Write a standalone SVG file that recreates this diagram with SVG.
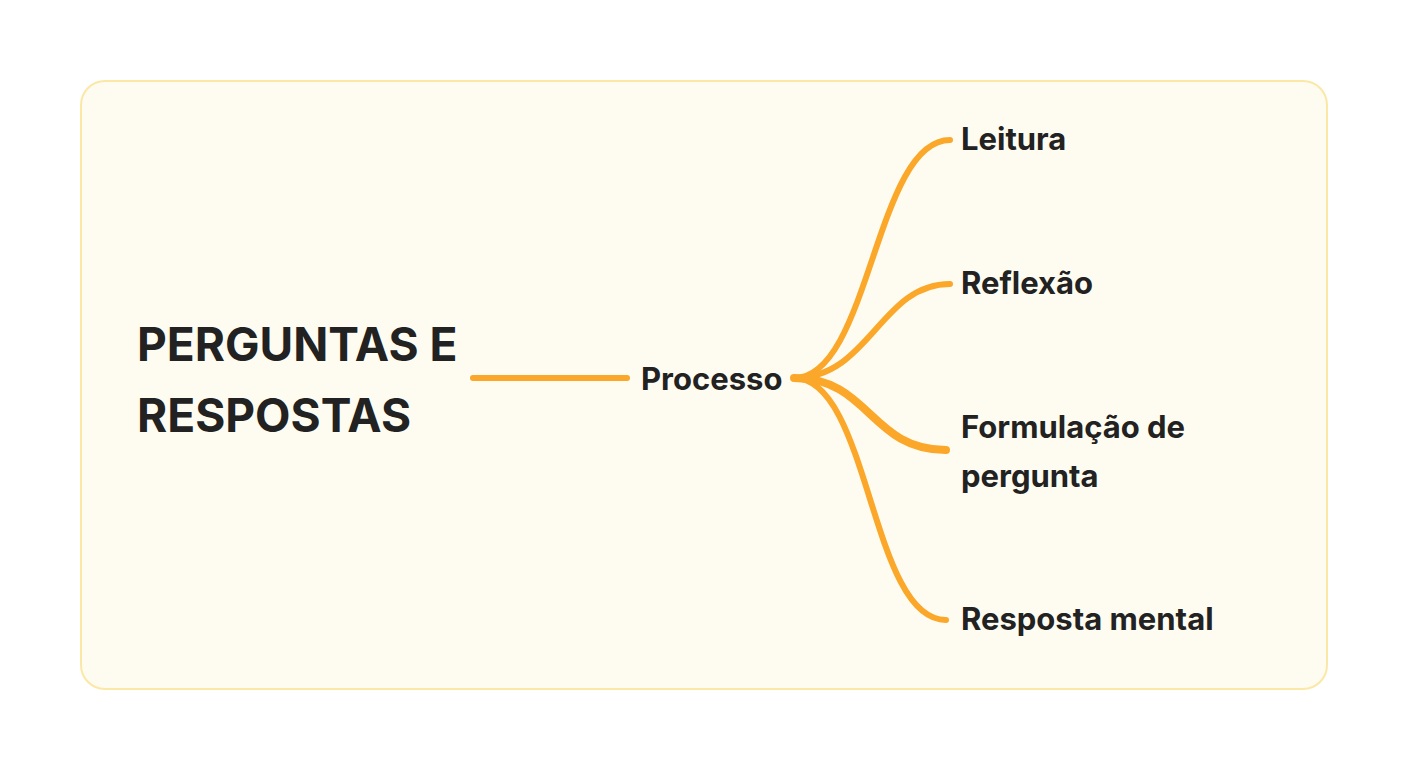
<svg xmlns="http://www.w3.org/2000/svg" width="1408" height="771" viewBox="0 0 1408 771">
<style>
.t{font-family:Inter,"Noto Sans","Liberation Sans",sans-serif;font-weight:700;fill:#222222}
.b{font-size:31px}
.h{font-size:46px}
.c{fill:none;stroke:#fba72a;stroke-width:6;stroke-linecap:round}
</style>
<rect width="1408" height="771" fill="#ffffff"/>
<rect id="frame" x="81" y="81" width="1246" height="608" rx="24" fill="#fefcf0" stroke="#fbe8a6" stroke-width="2"/>
<g id="connectors">
<path class="c" d="M473,378 L627,378"/>
<path class="c" d="M794,378 C870,378 875,140 950,140"/>
<path class="c" d="M794,378 C870,378 880,284 950,284"/>
<path class="c" d="M794,378 C870,378 870,450 946,450" style="stroke-width:8"/>
<path class="c" d="M794,378 C870,378 870,620 946,620"/>
</g>
<g id="root"><text class="t h" x="137" y="361">PERGUNTAS E</text><text class="t h" x="137" y="432">RESPOSTAS</text></g>
<g id="processo"><text class="t b" x="641" y="390">Processo</text></g>
<g id="leitura"><text class="t b" x="961" y="150">Leitura</text></g>
<g id="reflexao"><text class="t b" x="961" y="294">Reflexão</text></g>
<g id="formulacao"><text class="t b" x="961" y="438">Formulação de</text><text class="t b" x="961" y="487">pergunta</text></g>
<g id="resposta"><text class="t b" x="961" y="630">Resposta mental</text></g>
</svg>
